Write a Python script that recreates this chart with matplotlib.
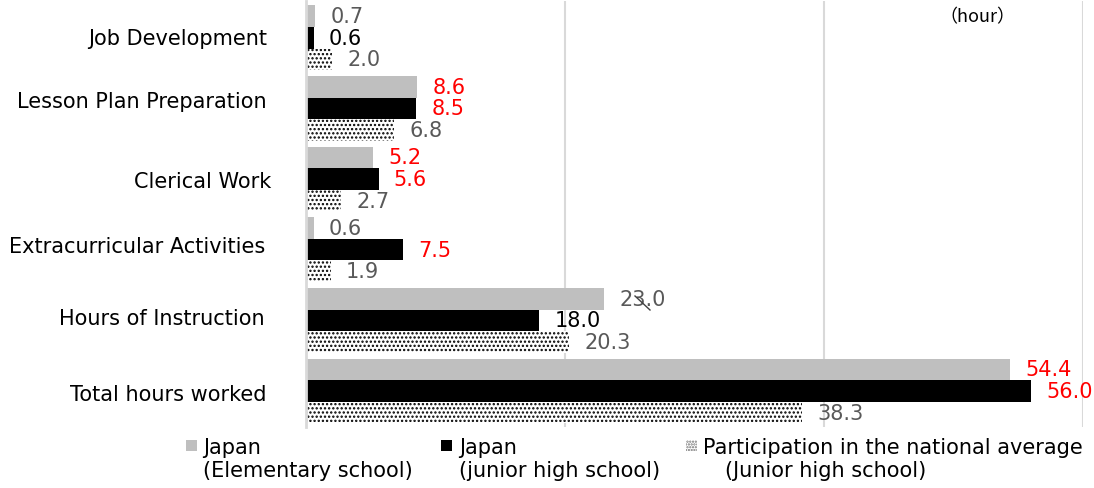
import matplotlib
matplotlib.use("Agg")
import matplotlib.pyplot as plt
import numpy as np
from matplotlib.lines import Line2D
from matplotlib.patches import Rectangle
from matplotlib.transforms import ScaledTranslation

plt.rcParams["font.family"] = ["DejaVu Sans", "Noto Sans CJK JP"]
plt.rcParams["hatch.linewidth"] = 1.1

categories = ["Job Development", "Lesson Plan Preparation", "Clerical Work",
              "Extracurricular Activities", "Hours of Instruction", "Total hours worked"]
elementary = [0.7, 8.6, 5.2, 0.6, 23.0, 54.4]
junior_high = [0.6, 8.5, 5.6, 7.5, 18.0, 56.0]
national_avg = [2.0, 6.8, 2.7, 1.9, 20.3, 38.3]

GRAY_TXT = "#595959"
elem_label_colors = [GRAY_TXT, "red", "red", GRAY_TXT, GRAY_TXT, "red"]
jh_label_colors = ["black", "red", "red", "red", "black", "red"]
nat_label_colors = [GRAY_TXT] * 6

W, H, DPI = 1094, 489, 100
FS = 15
fig = plt.figure(figsize=(W / DPI, H / DPI), dpi=DPI)
fig.patch.set_facecolor("white")

# axes placed in pixel terms: x 306..1083, y 2..428
ax = fig.add_axes([306 / W, 1 - 428 / H, 777 / W, 426 / H])

y = np.arange(len(categories))
h = 0.305
b1 = ax.barh(y - h, elementary, height=h, color="#bfbfbf", linewidth=0)
b2 = ax.barh(y, junior_high, height=h, color="black", linewidth=0)
b3 = ax.barh(y + h, national_avg, height=h, color="white", edgecolor="black",
             hatch="....", linewidth=0)

for bars, cols in [(b1, elem_label_colors), (b2, jh_label_colors), (b3, nat_label_colors)]:
    texts = ax.bar_label(bars, fmt="%.1f", padding=11, fontsize=FS)
    for t, c in zip(texts, cols):
        t.set_color(c)

ax.set_xlim(0, 60)
ax.set_ylim(5.51, -0.52)
ax.set_xticks([20, 40, 60])
ax.xaxis.grid(True, color="#d9d9d9", linewidth=1.5)
ax.set_axisbelow(True)
ax.tick_params(axis="x", length=0, labelbottom=False)
ax.tick_params(axis="y", length=0, pad=28)
for s in ["top", "right", "bottom"]:
    ax.spines[s].set_visible(False)
ax.spines["left"].set_color("#d9d9d9")
ax.spines["left"].set_linewidth(2)

ax.set_yticks(y)
ax.set_yticklabels(categories, fontsize=FS)
# hand-placed label boxes in the original: small per-label shifts (px)
shifts = [(0, 1.5), (0, 9), (4, 0), (-2, 6), (-2, 4.5), (-1, -1)]
for lab, (dx, dy) in zip(ax.get_yticklabels(), shifts):
    lab.set_transform(lab.get_transform() + ScaledTranslation(dx / DPI, dy / DPI, fig.dpi_scale_trans))

fig.text(939 / W, 1 - 17 / H, "（hour）", fontsize=13, ha="left", va="center",
         family=["Noto Sans CJK JP"])

# stray leader mark next to the 23.0 label
fig.add_artist(Line2D([635 / W, 650 / W], [1 - 297 / H, 1 - 311 / H],
                      transform=fig.transFigure, color="#404040", linewidth=1))

# legend, drawn by hand to keep the two-line layout
legend_items = [
    (186, {"facecolor": "#bfbfbf"}, 203, "Japan", 203, "(Elementary school)"),
    (441, {"facecolor": "black"}, 459, "Japan", 459, "(junior high school)"),
    (686, {"facecolor": "white", "edgecolor": "#707070", "hatch": "......"}, 703,
     "Participation in the national average", 725, "(Junior high school)"),
]
for sx, style, tx1, line1, tx2, line2 in legend_items:
    fig.add_artist(Rectangle((sx / W, 1 - 452 / H), 11 / W, 11 / H,
                             transform=fig.transFigure, linewidth=0, **style))
    fig.text(tx1 / W, 1 - 448 / H, line1, fontsize=FS, ha="left", va="center")
    fig.text(tx2 / W, 1 - 471 / H, line2, fontsize=FS, ha="left", va="center")

fig.savefig("out.png", dpi=DPI, facecolor="white")
